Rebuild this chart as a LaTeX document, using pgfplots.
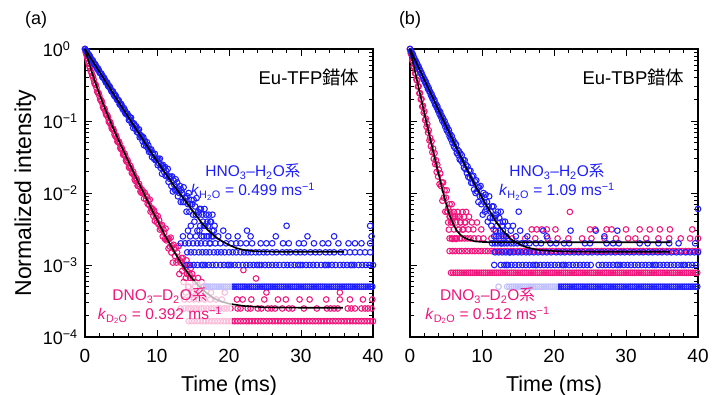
\documentclass[border=0pt]{standalone}
\usepackage{pgfplots}
\pgfplotsset{compat=1.18}
\usepackage{fontspec}
\setmainfont{Liberation Sans}
\newfontfamily\cjk{Noto Sans CJK JP}
\definecolor{cb}{RGB}{30,30,252}
\definecolor{cp}{RGB}{240,22,125}
\newcommand\tp[1]{10\textsuperscript{#1}}
\tikzset{dot/.style={mark=o, mark size=2.8pt, line width=1.05pt},
  fitl/.style={black, line width=1.6pt}}
\begin{document}
\begin{tikzpicture}
\path[use as bounding box] (0,0) rectangle (712pt,395pt);
%%%%%%%%%%%%%%%%%%%%%%%% panel (a)
\begin{axis}[at={(85pt,58pt)}, anchor=south west,
    scale only axis, width=288pt, height=288pt,
    xmin=0, xmax=40, ymode=log, ymin=1e-4, ymax=1,
    clip=false, clip marker paths=true,
    axis line style={line width=1.1pt},
    tick style={black, line width=0.9pt},
    major tick length=7pt, minor tick length=4pt,
    tick align=inside,
    xtick={0,10,20,30,40}, xticklabels={0,10,20,30,40},
    minor xtick={2,4,6,8,12,14,16,18,22,24,26,28,32,34,36,38},
    ytick={1e-4,1e-3,1e-2,1e-1,1},
    minor ytick={2e-4,3e-4,4e-4,5e-4,6e-4,7e-4,8e-4,9e-4,2e-3,3e-3,4e-3,5e-3,6e-3,7e-3,8e-3,9e-3,2e-2,3e-2,4e-2,5e-2,6e-2,7e-2,8e-2,9e-2,0.2,0.3,0.4,0.5,0.6,0.7,0.8,0.9},
    yticklabels={\tp{−4},\tp{−3},\tp{−2},\tp{−1},\tp{0}},
    xticklabel style={font=\fontsize{19}{19}\selectfont, yshift=-9pt},
    yticklabel style={font=\fontsize{18}{18}\selectfont, anchor=east, text width=34pt, align=left, inner sep=0pt, xshift=-8pt},
  ]
% DNO3-D2O decay
\addplot[only marks, dot, cp] coordinates {(0,1) (0.1,0.894) (0.2,0.832) (0.3,0.753) (0.4,0.689) (0.5,0.631) (0.6,0.578) (0.7,0.542) (0.8,0.493) (0.9,0.468) (1.0,0.426) (1.1,0.414) (1.2,0.378) (1.3,0.338) (1.4,0.322) (1.5,0.318) (1.6,0.288) (1.7,0.256) (1.8,0.245) (1.9,0.243) (2.0,0.223) (2.1,0.201) (2.2,0.193) (2.3,0.191) (2.4,0.176) (2.5,0.156) (2.6,0.150) (2.7,0.149) (2.8,0.138) (2.9,0.125) (3.0,0.121) (3.1,0.120) (3.2,0.112) (3.3,0.0989) (3.4,0.0946) (3.5,0.0966) (3.6,0.0887) (3.7,0.0797) (3.8,0.0772) (3.9,0.0780) (4.0,0.0732) (4.1,0.0652) (4.2,0.0618) (4.3,0.0633) (4.4,0.0583) (4.5,0.0518) (4.6,0.0509) (4.7,0.0520) (4.8,0.0485) (4.9,0.0423) (5.0,0.0407) (5.1,0.0422) (5.2,0.0393) (5.3,0.0342) (5.4,0.0337) (5.5,0.0352) (5.6,0.0325) (5.7,0.0284) (5.8,0.0273) (5.9,0.0286) (6.0,0.0264) (6.1,0.0228) (6.2,0.0222) (6.3,0.0238) (6.4,0.0221) (6.5,0.0190) (6.6,0.0186) (6.7,0.0197) (6.8,0.0177) (6.9,0.0154) (7.0,0.0147) (7.1,0.0161) (7.2,0.0152) (7.3,0.0126) (7.4,0.0126) (7.5,0.0134) (7.6,0.0122) (7.7,0.0105) (7.8,0.0101) (7.9,0.0111)
(8.0,0.0101) (8.1,0.0104) (8.2,0.0084) (8.3,0.0101) (8.4,0.0092) (8.5,0.0081) (8.6,0.0090) (8.7,0.0071) (8.8,0.0078) (8.9,0.0068) (9.0,0.0081) (9.1,0.0055) (9.2,0.0062) (9.3,0.0057) (9.4,0.0060) (9.5,0.0048) (9.6,0.0057) (9.7,0.0041) (9.8,0.0050) (9.9,0.0045) (10.0,0.0039) (10.1,0.0048) (10.2,0.0037) (10.3,0.0042) (10.4,0.0031) (10.5,0.0035) (10.6,0.0032) (10.7,0.0036) (10.8,0.0025) (10.9,0.0031) (11.0,0.0028) (11.1,0.0023) (11.2,0.0032) (11.3,0.0022) (11.4,0.0023) (11.5,0.0023) (11.6,0.0017) (11.7,0.0023) (11.8,0.0018) (11.9,0.0024) (12.0,0.00149) (12.1,0.00183) (12.2,0.00108) (12.3,0.00191) (12.4,0.00166) (12.5,0.00133) (12.6,0.00174) (12.7,0.00108) (12.8,0.00149) (12.9,0.00116) (13.0,0.00183) (13.1,0.00075) (13.2,0.00116) (13.3,0.00108) (13.4,0.00125) (13.5,0.00083) (13.6,0.00125) (13.7,0.00058) (13.8,0.00100) (13.9,0.00091) (14.0,0.00066) (14.1,0.00116) (14.2,0.00075) (14.3,0.00100) (14.4,0.00050) (14.5,0.00075) (14.6,0.00066) (14.7,0.00091) (14.8,0.00042) (14.9,0.00075) (15.0,0.00066) (15.3,0.00058) (15.7,0.00066) (16.2,0.00058) (16.9,0.00050) (22.0,0.00085) (23.75,0.00065)};
\addplot[only marks, dot, cp] coordinates {(14.4,1.66e-4) (14.8,1.66e-4) (15.2,1.66e-4) (15.6,1.66e-4) (16.0,1.66e-4) (16.4,1.66e-4) (16.8,1.66e-4) (17.2,1.66e-4) (17.6,1.66e-4) (18.0,1.66e-4) (18.4,1.66e-4) (18.8,1.66e-4) (19.2,1.66e-4) (19.6,1.66e-4) (20.0,1.66e-4) (20.4,1.66e-4) (20.8,1.66e-4) (21.2,1.66e-4) (21.6,1.66e-4) (22.0,1.66e-4) (22.4,1.66e-4) (22.8,1.66e-4) (23.2,1.66e-4) (23.6,1.66e-4) (24.0,1.66e-4) (24.4,1.66e-4) (24.8,1.66e-4) (25.2,1.66e-4) (25.6,1.66e-4) (26.0,1.66e-4) (26.4,1.66e-4) (26.8,1.66e-4) (27.2,1.66e-4) (27.6,1.66e-4) (28.0,1.66e-4) (28.4,1.66e-4) (28.8,1.66e-4) (29.2,1.66e-4) (29.6,1.66e-4) (30.0,1.66e-4) (30.4,1.66e-4) (30.8,1.66e-4) (31.2,1.66e-4) (31.6,1.66e-4) (32.0,1.66e-4) (32.4,1.66e-4) (32.8,1.66e-4) (33.2,1.66e-4) (33.6,1.66e-4) (34.0,1.66e-4) (34.4,1.66e-4) (34.8,1.66e-4) (35.2,1.66e-4) (35.6,1.66e-4) (36.0,1.66e-4) (36.4,1.66e-4) (36.8,1.66e-4) (37.2,1.66e-4) (37.6,1.66e-4) (38.0,1.66e-4) (38.4,1.66e-4) (38.8,1.66e-4) (39.2,1.66e-4) (39.6,1.66e-4) (40.0,1.66e-4)};
\addplot[only marks, dot, cp] coordinates {(13.3,2.49e-4) (13.8,2.49e-4) (14.3,2.49e-4) (14.7,2.49e-4) (15.2,2.49e-4) (15.6,2.49e-4) (16.1,2.49e-4) (16.5,2.49e-4) (17.0,2.49e-4) (17.5,2.49e-4) (17.9,2.49e-4) (18.4,2.49e-4) (18.8,2.49e-4) (19.3,2.49e-4) (19.7,2.49e-4) (20.2,2.49e-4) (21.2,2.49e-4) (21.6,2.49e-4) (22.6,2.49e-4) (23.0,2.49e-4) (24.0,2.49e-4) (24.5,2.49e-4) (25.4,2.49e-4) (25.9,2.49e-4) (26.4,2.49e-4) (27.4,2.49e-4) (28.3,2.49e-4) (28.8,2.49e-4) (30.4,2.49e-4) (32.2,2.49e-4) (33.6,2.49e-4) (34.1,2.49e-4) (34.6,2.49e-4) (35.1,2.49e-4) (36.5,2.49e-4) (37.0,2.49e-4) (37.5,2.49e-4) (38.4,2.49e-4) (38.9,2.49e-4) (39.3,2.49e-4) (39.8,2.49e-4)
(13.8,3.32e-4) (14.5,3.32e-4) (15.1,3.32e-4) (15.8,3.32e-4) (16.6,3.32e-4) (17.4,3.32e-4) (18.2,3.32e-4) (19.0,3.32e-4) (21.1,3.32e-4) (21.9,3.32e-4) (23.1,3.32e-4) (24.9,3.32e-4) (26.8,3.32e-4) (27.9,3.32e-4) (29.8,3.32e-4) (31.2,3.32e-4) (33.5,3.32e-4) (35.4,3.32e-4) (36.8,3.32e-4) (38.6,3.32e-4) (39.9,3.32e-4)
(14.0,4.15e-4) (15.0,4.15e-4) (16.1,4.15e-4) (17.5,4.15e-4) (19.4,4.15e-4) (25.2,4.15e-4) (35.4,4.15e-4) (14.3,4.98e-4) (15.3,4.98e-4) (16.4,4.98e-4)};
% HNO3-H2O decay
\addplot[only marks, dot, cb] coordinates {(0,1) (0.1,0.955) (0.2,0.940) (0.3,0.916) (0.4,0.849) (0.5,0.828) (0.6,0.822) (0.7,0.786) (0.8,0.743) (0.9,0.709) (1.0,0.705) (1.1,0.687) (1.2,0.637) (1.3,0.614) (1.4,0.617) (1.5,0.589) (1.6,0.557) (1.7,0.527) (1.8,0.539) (1.9,0.515) (2.0,0.478) (2.1,0.461) (2.2,0.458) (2.3,0.451) (2.4,0.410) (2.5,0.399) (2.6,0.405) (2.7,0.387) (2.8,0.362) (2.9,0.342) (3.0,0.347) (3.1,0.338) (3.2,0.307) (3.3,0.299) (3.4,0.304) (3.5,0.290) (3.6,0.269) (3.7,0.257) (3.8,0.260) (3.9,0.256) (4.0,0.231) (4.1,0.222) (4.2,0.230) (4.3,0.220) (4.4,0.202) (4.5,0.195) (4.6,0.197) (4.7,0.192) (4.8,0.171) (4.9,0.167) (5.0,0.173) (5.1,0.165) (5.2,0.150) (5.3,0.143) (5.4,0.151) (5.5,0.144) (5.6,0.128) (5.7,0.125) (5.8,0.128) (5.9,0.126)
(6.0,0.118) (6.1,0.103) (6.2,0.114) (6.3,0.103) (6.4,0.111) (6.5,0.0921) (6.6,0.0941) (6.7,0.0800) (6.8,0.0924) (6.9,0.0862) (7.0,0.0781) (7.1,0.0846) (7.2,0.0705) (7.3,0.0757) (7.4,0.0686) (7.5,0.0766) (7.6,0.0593) (7.7,0.0638) (7.8,0.0603) (7.9,0.0614) (8.0,0.0524) (8.1,0.0594) (8.2,0.0460) (8.3,0.0530) (8.4,0.0489) (8.5,0.0447) (8.6,0.0508) (8.7,0.0423) (8.8,0.0458) (8.9,0.0372) (9.0,0.0401) (9.1,0.0373) (9.2,0.0403) (9.3,0.0316) (9.4,0.0360) (9.5,0.0338) (9.6,0.0298) (9.7,0.0350) (9.8,0.0285) (9.9,0.0288) (10.0,0.0300) (10.1,0.0244) (10.2,0.0297) (10.3,0.0256) (10.4,0.0300) (10.5,0.0224) (10.6,0.0240) (10.7,0.0185) (10.8,0.0246) (10.9,0.0224) (11.0,0.0195) (11.1,0.0230) (11.2,0.0173) (11.3,0.0202) (11.4,0.0175) (11.5,0.0216) (11.6,0.0143) (11.7,0.0169) (11.8,0.0157) (11.9,0.0167) (12.0,0.0125) (12.1,0.0170) (12.2,0.0105) (12.3,0.0150) (12.4,0.0130) (12.5,0.0110) (12.6,0.0155) (12.7,0.0110) (12.8,0.0140) (12.9,0.0090) (13.0,0.0115) (13.1,0.0100) (13.2,0.0125) (13.3,0.0075) (13.4,0.0110) (13.5,0.0100) (13.6,0.0075) (13.7,0.0120) (13.8,0.0075) (13.9,0.0085) (14.0,0.0085) (14.1,0.0055) (14.2,0.0090) (14.3,0.0070) (14.4,0.0100) (14.5,0.0055) (14.6,0.0070) (14.7,0.0035) (14.8,0.0080) (14.9,0.0070) (15.0,0.0050) (15.1,0.0080) (15.2,0.0040) (15.3,0.0065) (15.4,0.0050) (15.5,0.0085) (15.6,0.0030) (15.7,0.0055) (15.8,0.0050) (15.9,0.0060) (16.0,0.0035) (16.1,0.0060) (16.2,0.0025) (16.3,0.0050) (16.4,0.0040) (16.5,0.0035) (16.6,0.0060) (16.7,0.0035) (16.8,0.0050) (16.9,0.0025) (17.0,0.0040) (17.1,0.0035) (17.2,0.0050) (17.3,0.0020) (17.4,0.0040) (17.5,0.0040) (17.6,0.0025) (17.7,0.0050) (17.8,0.0025) (17.9,0.0030) (18.0,0.0035) (28.0,0.0035) (39.6,0.0035)};
\addplot[only marks, dot, cb] coordinates {(16.5,5e-4) (16.8,5e-4) (17.1,5e-4) (17.4,5e-4) (17.7,5e-4) (18.0,5e-4) (18.3,5e-4) (18.6,5e-4) (18.9,5e-4) (19.2,5e-4) (19.5,5e-4) (19.8,5e-4) (20.1,5e-4) (20.4,5e-4) (20.7,5e-4) (21.0,5e-4) (21.3,5e-4) (21.6,5e-4) (21.9,5e-4) (22.2,5e-4) (22.5,5e-4) (22.8,5e-4) (23.1,5e-4) (23.4,5e-4) (23.7,5e-4) (24.0,5e-4) (24.3,5e-4) (24.6,5e-4) (24.9,5e-4) (25.2,5e-4) (25.5,5e-4) (25.8,5e-4) (26.1,5e-4) (26.4,5e-4) (26.7,5e-4) (27.0,5e-4) (27.3,5e-4) (27.6,5e-4) (27.9,5e-4) (28.2,5e-4) (28.5,5e-4) (28.8,5e-4) (29.1,5e-4) (29.4,5e-4) (29.7,5e-4) (30.0,5e-4) (30.3,5e-4) (30.6,5e-4) (30.9,5e-4) (31.2,5e-4) (31.5,5e-4) (31.8,5e-4) (32.1,5e-4) (32.4,5e-4) (32.7,5e-4) (33.0,5e-4) (33.3,5e-4) (33.6,5e-4) (33.9,5e-4) (34.2,5e-4) (34.5,5e-4) (34.8,5e-4) (35.1,5e-4) (35.4,5e-4) (35.7,5e-4) (36.0,5e-4) (36.3,5e-4) (36.6,5e-4) (36.9,5e-4) (37.2,5e-4) (37.5,5e-4) (37.8,5e-4) (38.1,5e-4) (38.4,5e-4) (38.7,5e-4) (39.0,5e-4) (39.3,5e-4) (39.6,5e-4) (39.9,5e-4)};
\addplot[only marks, dot, cb] coordinates {(14.1,1e-3) (14.6,1e-3) (15.1,1e-3) (15.6,1e-3) (16.2,1e-3) (16.4,1e-3) (16.7,1e-3) (17.2,1e-3) (17.7,1e-3) (18.2,1e-3) (18.8,1e-3) (19.3,1e-3) (19.8,1e-3) (20.0,1e-3) (20.3,1e-3) (20.8,1e-3) (21.3,1e-3) (21.9,1e-3) (22.4,1e-3) (22.9,1e-3) (23.4,1e-3) (23.9,1e-3) (24.2,1e-3) (24.5,1e-3) (25.0,1e-3) (25.5,1e-3) (26.0,1e-3) (26.5,1e-3) (27.0,1e-3) (27.6,1e-3) (28.1,1e-3) (28.6,1e-3) (29.1,1e-3) (29.6,1e-3) (29.9,1e-3) (30.2,1e-3) (30.7,1e-3) (31.2,1e-3) (31.7,1e-3) (32.2,1e-3) (32.8,1e-3) (33.3,1e-3) (33.5,1e-3) (33.8,1e-3) (34.3,1e-3) (34.8,1e-3) (35.4,1e-3) (35.9,1e-3) (36.4,1e-3) (36.9,1e-3) (37.1,1e-3) (37.4,1e-3) (38.0,1e-3) (38.5,1e-3) (39.0,1e-3) (39.5,1e-3) (40.0,1e-3)
(14.2,1.5e-3) (14.7,1.5e-3) (15.2,1.5e-3) (15.8,1.5e-3) (16.3,1.5e-3) (16.8,1.5e-3) (17.3,1.5e-3) (17.9,1.5e-3) (18.4,1.5e-3) (18.9,1.5e-3) (19.4,1.5e-3) (20.0,1.5e-3) (20.5,1.5e-3) (21.0,1.5e-3) (21.6,1.5e-3) (22.1,1.5e-3) (22.6,1.5e-3) (23.1,1.5e-3) (23.7,1.5e-3) (24.2,1.5e-3) (24.8,1.5e-3) (25.3,1.5e-3) (26.0,1.5e-3) (26.6,1.5e-3) (27.4,1.5e-3) (28.0,1.5e-3) (28.5,1.5e-3) (29.3,1.5e-3) (29.9,1.5e-3) (30.5,1.5e-3) (31.3,1.5e-3) (32.0,1.5e-3) (32.6,1.5e-3) (33.4,1.5e-3) (34.0,1.5e-3) (34.6,1.5e-3) (35.5,1.5e-3) (36.1,1.5e-3) (36.8,1.5e-3) (37.5,1.5e-3) (38.2,1.5e-3) (38.9,1.5e-3) (39.6,1.5e-3)
(13.3,2e-3) (13.9,2e-3) (14.4,2e-3) (15.0,2e-3) (15.6,2e-3) (16.1,2e-3) (16.7,2e-3) (17.4,2e-3) (18.1,2e-3) (18.8,2e-3) (19.6,2e-3) (20.3,2e-3) (21.0,2e-3) (21.6,2e-3) (22.4,2e-3) (23.2,2e-3) (24.4,2e-3) (25.2,2e-3) (26.0,2e-3) (27.5,2e-3) (28.3,2e-3) (29.7,2e-3) (30.4,2e-3) (31.8,2e-3) (33.0,2e-3) (33.8,2e-3) (35.2,2e-3) (36.6,2e-3) (37.5,2e-3) (38.4,2e-3) (39.6,2e-3)
(13.6,2.5e-3) (14.6,2.5e-3) (15.4,2.5e-3) (16.5,2.5e-3) (17.2,2.5e-3) (18.5,2.5e-3) (19.9,2.5e-3) (21.2,2.5e-3) (23.0,2.5e-3) (26.5,2.5e-3) (30.9,2.5e-3) (34.6,2.5e-3) (39.8,2.5e-3)
(14.3,3e-3) (15.9,3e-3) (17.7,3e-3) (19.2,3e-3) (22.5,3e-3)};
% fits
\addplot[fitl] coordinates {(0,1) (1,0.6965) (2,0.4845) (3,0.3372) (4,0.2348) (5,0.1637) (6,0.1142) (7,0.0798) (8,0.0560) (9,0.0393) (10,0.0278) (11,0.0198) (12,0.0142) (13,0.01034) (14,0.00764) (15,0.0056) (16,0.0041) (17,0.0031) (18,0.0025) (19,0.00215) (20,0.0019) (21,0.00172) (22,0.00162) (23,0.00157) (24,0.00155) (26,0.00153) (36,0.00153)};
\addplot[fitl] coordinates {(0,1) (0.1,0.9213) (0.2,0.8497) (0.3,0.7846) (0.4,0.7253) (0.5,0.6711) (0.6,0.6218) (0.7,0.5767) (0.8,0.5355) (0.9,0.4977) (1.0,0.4631) (1.2,0.4020) (1.4,0.3504) (1.6,0.3066) (1.8,0.2691) (2.0,0.2373) (2.2,0.2096) (2.4,0.1857) (2.6,0.1650) (2.8,0.1469) (3.0,0.1312) (3.2,0.1174) (3.4,0.1051) (3.6,0.0944) (3.8,0.0848) (4.0,0.0763) (4.4,0.0620) (4.8,0.0505) (5.2,0.0414) (5.6,0.0339) (6.0,0.0278) (6.5,0.0218) (7.0,0.0171) (7.5,0.0136) (8.0,0.0108) (8.5,0.0085) (9.0,0.0067) (9.5,0.0053) (10,0.0043) (10.5,0.0034) (11,0.0027) (11.5,0.0022) (12,0.0018) (12.5,0.00147) (13,0.00121) (13.5,0.00101) (14,0.00085) (14.5,0.00072) (15,0.00063) (16,0.00049) (17,0.00040) (18,0.00034) (19,0.00031) (20,0.00029) (22,0.00027) (25,0.000258) (30,0.000255) (35.8,0.000255)};
\fill[white, fill opacity=0.72] (axis cs:1.8,1.25e-4) rectangle (axis cs:20.4,6e-4);
\node[font=\fontsize{15.5}{19}\selectfont, align=center, text=cb] at (rel axis cs:0.583,0.538)
  {HNO\textsubscript{3}--H\textsubscript{2}O{\cjk 系}\\\textit{k}\textsubscript{H\textsubscript{2}O} = 0.499 ms\textsuperscript{−1}};
\node[font=\fontsize{15.5}{19}\selectfont, align=center, text=cp] at (rel axis cs:0.26,0.108)
  {DNO\textsubscript{3}--D\textsubscript{2}O{\cjk 系}\\\textit{k}\textsubscript{D\textsubscript{2}O} = 0.392 ms\textsuperscript{−1}};
\node[font=\fontsize{18.5}{18.5}\selectfont, anchor=east] at (rel axis cs:0.965,0.9) {Eu-TFP{\cjk 錯体}};
\node[font=\fontsize{18}{18}\selectfont] at (rel axis cs:-0.17,1.10) {(a)};
\node[font=\fontsize{23}{23}\selectfont, rotate=90, anchor=base] at (rel axis cs:-0.1875,0.5) {Normalized intensity};
\node[font=\fontsize{21.5}{21.5}\selectfont, anchor=base] at (rel axis cs:0.5,-0.19) {Time (ms)};
\end{axis}
%%%%%%%%%%%%%%%%%%%%%%%% panel (b)
\begin{axis}[at={(410pt,58pt)}, anchor=south west,
    scale only axis, width=288pt, height=288pt,
    xmin=0, xmax=40, ymode=log, ymin=1e-4, ymax=1,
    clip=false, clip marker paths=true,
    axis line style={line width=1.1pt},
    tick style={black, line width=0.9pt},
    major tick length=7pt, minor tick length=4pt,
    tick align=inside,
    xtick={0,10,20,30,40}, xticklabels={0,10,20,30,40},
    minor xtick={2,4,6,8,12,14,16,18,22,24,26,28,32,34,36,38},
    ytick={1e-4,1e-3,1e-2,1e-1,1},
    minor ytick={2e-4,3e-4,4e-4,5e-4,6e-4,7e-4,8e-4,9e-4,2e-3,3e-3,4e-3,5e-3,6e-3,7e-3,8e-3,9e-3,2e-2,3e-2,4e-2,5e-2,6e-2,7e-2,8e-2,9e-2,0.2,0.3,0.4,0.5,0.6,0.7,0.8,0.9},
    yticklabels={},
    xticklabel style={font=\fontsize{19}{19}\selectfont, yshift=-9pt},
  ]
% DNO3-D2O
\addplot[only marks, dot, cp] coordinates {(0,1) (0.1,0.875) (0.2,0.829) (0.3,0.703) (0.4,0.681) (0.5,0.572) (0.6,0.548) (0.7,0.460) (0.8,0.454) (0.9,0.374) (1.0,0.365) (1.1,0.301) (1.2,0.303) (1.3,0.242) (1.4,0.244) (1.5,0.199) (1.6,0.202) (1.7,0.158) (1.8,0.163) (1.9,0.130) (2.0,0.136) (2.1,0.103) (2.2,0.108) (2.3,0.0831) (2.4,0.0907) (2.5,0.0690) (2.6,0.0744) (2.7,0.0537) (2.8,0.0583) (2.9,0.0446) (3.0,0.0523) (3.1,0.0368) (3.2,0.0414) (3.3,0.0298) (3.4,0.0359) (3.5,0.0252) (3.6,0.0286) (3.7,0.0196) (3.8,0.0247) (3.9,0.0169) (4.0,0.0211) (4.1,0.0133) (4.2,0.0187) (4.3,0.0125) (4.4,0.0140) (4.5,0.0078) (4.6,0.0140) (4.7,0.0086) (4.8,0.0109) (4.9,0.0055) (5.0,0.0086) (5.1,0.0109) (5.2,0.0055) (5.3,0.0062) (5.4,0.0031) (5.5,0.0070) (5.6,0.0047) (5.7,0.0039) (5.8,0.0070) (5.9,0.0023) (6.0,0.0047) (6.2,0.0047) (6.4,0.0023) (6.6,0.0047) (6.8,0.0031) (7.0,0.0039) (7.3,0.0031) (7.6,0.0039)
(5.3,3.9e-3) (5.9,3.9e-3) (6.4,3.9e-3) (7.0,3.9e-3) (7.7,3.9e-3) (8.6,3.9e-3) (9.3,3.9e-3) (12.5,3.9e-3) (5.5,4.68e-3) (6.0,4.68e-3) (6.3,4.68e-3) (6.9,4.68e-3) (7.5,4.68e-3) (8.2,4.68e-3) (5.2,5.46e-3) (5.6,5.46e-3) (6.1,5.46e-3) (6.6,5.46e-3) (7.3,5.46e-3) (7.8,5.46e-3) (22.2,5.46e-3)
(6.1,3.12e-3) (6.7,3.12e-3) (7.4,3.12e-3) (8.1,3.12e-3) (8.8,3.12e-3) (9.9,3.12e-3) (11.6,3.12e-3) (16.9,3.12e-3) (17.6,3.12e-3) (18.3,3.12e-3) (19.0,3.12e-3) (20.2,3.12e-3) (25.0,3.12e-3) (25.7,3.12e-3) (27.3,3.12e-3) (28.0,3.12e-3) (30.0,3.12e-3) (31.9,3.12e-3) (33.3,3.12e-3) (34.7,3.12e-3) (36.1,3.12e-3) (39.2,3.12e-3)
(5.5,2.34e-3) (5.8,2.34e-3) (6.2,2.34e-3) (6.5,2.34e-3) (6.9,2.34e-3) (7.2,2.34e-3) (7.6,2.34e-3) (8.0,2.34e-3) (8.4,2.34e-3) (8.9,2.34e-3) (9.5,2.34e-3) (10.2,2.34e-3) (11.3,2.34e-3) (12.4,2.34e-3) (13.0,2.34e-3) (14.2,2.34e-3) (16.0,2.34e-3) (17.4,2.34e-3) (19.1,2.34e-3) (20.5,2.34e-3) (22.0,2.34e-3) (23.9,2.34e-3) (25.2,2.34e-3) (27.0,2.34e-3) (28.6,2.34e-3) (30.3,2.34e-3) (31.3,2.34e-3) (32.8,2.34e-3) (34.5,2.34e-3) (36.0,2.34e-3) (37.6,2.34e-3) (38.9,2.34e-3) (40.0,2.34e-3)};
\addplot[only marks, dot, cp] coordinates {(5.5,1.56e-3) (5.9,1.56e-3) (6.3,1.56e-3) (6.8,1.56e-3) (7.2,1.56e-3) (7.7,1.56e-3) (8.1,1.56e-3) (8.6,1.56e-3) (9.0,1.56e-3) (9.5,1.56e-3) (9.9,1.56e-3) (10.4,1.56e-3) (10.8,1.56e-3) (11.3,1.56e-3) (11.7,1.56e-3) (12.2,1.56e-3) (12.6,1.56e-3) (13.1,1.56e-3) (13.5,1.56e-3) (14.0,1.56e-3) (14.4,1.56e-3) (14.9,1.56e-3) (15.3,1.56e-3) (15.8,1.56e-3) (16.2,1.56e-3) (16.7,1.56e-3) (17.1,1.56e-3) (17.6,1.56e-3) (18.0,1.56e-3) (18.5,1.56e-3) (18.9,1.56e-3) (19.4,1.56e-3) (19.8,1.56e-3) (20.3,1.56e-3) (20.7,1.56e-3) (21.2,1.56e-3) (21.6,1.56e-3) (22.1,1.56e-3) (22.5,1.56e-3) (23.0,1.56e-3) (23.4,1.56e-3) (23.9,1.56e-3) (24.3,1.56e-3) (24.8,1.56e-3) (25.2,1.56e-3) (25.7,1.56e-3) (26.1,1.56e-3) (26.6,1.56e-3) (27.0,1.56e-3) (27.5,1.56e-3) (27.9,1.56e-3) (28.4,1.56e-3) (28.8,1.56e-3) (29.3,1.56e-3) (29.7,1.56e-3) (30.2,1.56e-3) (30.6,1.56e-3) (31.1,1.56e-3) (31.5,1.56e-3) (32.0,1.56e-3) (32.4,1.56e-3) (32.9,1.56e-3) (33.3,1.56e-3) (33.8,1.56e-3) (34.2,1.56e-3) (34.7,1.56e-3) (35.1,1.56e-3) (35.6,1.56e-3) (36.0,1.56e-3) (36.5,1.56e-3) (36.9,1.56e-3) (37.4,1.56e-3) (37.8,1.56e-3) (38.3,1.56e-3) (38.7,1.56e-3) (39.2,1.56e-3) (39.6,1.56e-3) (40.0,1.56e-3)
(5.7,7.8e-4) (6.0,7.8e-4) (6.3,7.8e-4) (6.6,7.8e-4) (6.9,7.8e-4) (7.2,7.8e-4) (7.5,7.8e-4) (7.8,7.8e-4) (8.1,7.8e-4) (8.4,7.8e-4) (8.7,7.8e-4) (9.0,7.8e-4) (9.3,7.8e-4) (9.6,7.8e-4) (9.9,7.8e-4) (10.2,7.8e-4) (10.5,7.8e-4) (10.8,7.8e-4) (11.1,7.8e-4) (11.4,7.8e-4) (11.7,7.8e-4) (12.0,7.8e-4) (12.3,7.8e-4) (12.6,7.8e-4) (12.9,7.8e-4) (13.2,7.8e-4) (13.5,7.8e-4) (13.8,7.8e-4) (14.1,7.8e-4) (14.4,7.8e-4) (14.7,7.8e-4) (15.0,7.8e-4) (15.3,7.8e-4) (15.6,7.8e-4) (15.9,7.8e-4) (16.2,7.8e-4) (16.5,7.8e-4) (16.8,7.8e-4) (17.1,7.8e-4) (17.4,7.8e-4) (17.7,7.8e-4) (18.0,7.8e-4) (18.3,7.8e-4) (18.6,7.8e-4) (18.9,7.8e-4) (19.2,7.8e-4) (19.5,7.8e-4) (19.8,7.8e-4) (20.1,7.8e-4) (20.4,7.8e-4) (20.7,7.8e-4) (21.0,7.8e-4) (21.3,7.8e-4) (21.6,7.8e-4) (21.9,7.8e-4) (22.2,7.8e-4) (22.5,7.8e-4) (22.8,7.8e-4) (23.1,7.8e-4) (23.4,7.8e-4) (23.7,7.8e-4) (24.0,7.8e-4) (24.3,7.8e-4) (24.6,7.8e-4) (24.9,7.8e-4) (25.2,7.8e-4) (25.5,7.8e-4) (25.8,7.8e-4) (26.1,7.8e-4) (26.4,7.8e-4) (26.7,7.8e-4) (27.0,7.8e-4) (27.3,7.8e-4) (27.6,7.8e-4) (27.9,7.8e-4) (28.2,7.8e-4) (28.5,7.8e-4) (28.8,7.8e-4) (29.1,7.8e-4) (29.4,7.8e-4) (29.7,7.8e-4) (30.0,7.8e-4) (30.3,7.8e-4) (30.6,7.8e-4) (30.9,7.8e-4) (31.2,7.8e-4) (31.5,7.8e-4) (31.8,7.8e-4) (32.1,7.8e-4) (32.4,7.8e-4) (32.7,7.8e-4) (33.0,7.8e-4) (33.3,7.8e-4) (33.6,7.8e-4) (33.9,7.8e-4) (34.2,7.8e-4) (34.5,7.8e-4) (34.8,7.8e-4) (35.1,7.8e-4) (35.4,7.8e-4) (35.7,7.8e-4) (36.0,7.8e-4) (36.3,7.8e-4) (36.6,7.8e-4) (36.9,7.8e-4) (37.2,7.8e-4) (37.5,7.8e-4) (37.8,7.8e-4) (38.1,7.8e-4) (38.4,7.8e-4) (38.7,7.8e-4) (39.0,7.8e-4) (39.3,7.8e-4) (39.6,7.8e-4) (39.9,7.8e-4)};
% HNO3-H2O
\addplot[only marks, dot, cb] coordinates {(0,1) (0.1,0.933) (0.2,0.924) (0.3,0.853) (0.4,0.845) (0.5,0.765) (0.6,0.750) (0.7,0.686) (0.8,0.686) (0.9,0.634) (1.0,0.622) (1.1,0.563) (1.2,0.569) (1.3,0.515) (1.4,0.510) (1.5,0.462) (1.6,0.466) (1.7,0.422) (1.8,0.418) (1.9,0.379) (2.0,0.383) (2.1,0.343) (2.2,0.350) (2.3,0.311) (2.4,0.314) (2.5,0.278) (2.6,0.287) (2.7,0.255) (2.8,0.255) (2.9,0.228) (3.0,0.236) (3.1,0.207) (3.2,0.211) (3.3,0.189) (3.4,0.195) (3.5,0.168) (3.6,0.172) (3.7,0.155) (3.8,0.160) (3.9,0.139) (4.0,0.142) (4.1,0.125) (4.2,0.133) (4.3,0.114) (4.4,0.118) (4.5,0.101) (4.6,0.108) (4.7,0.0937) (4.8,0.0994) (4.9,0.0831) (5.0,0.0883) (5.1,0.0744) (5.2,0.0808) (5.3,0.0689) (5.4,0.0745) (5.5,0.0611) (5.6,0.0650) (5.7,0.0559) (5.8,0.0617) (5.9,0.0496) (6.0,0.0544) (6.1,0.0444) (6.2,0.0502) (6.3,0.0415) (6.4,0.0472) (6.5,0.0360) (6.6,0.0400) (6.7,0.0337) (6.8,0.0380) (6.9,0.0293) (7.0,0.0351) (7.1,0.0282) (7.2,0.0334) (7.3,0.0262) (7.4,0.0288) (7.5,0.0225) (7.6,0.0285) (7.7,0.0215) (7.8,0.0244) (7.9,0.0189) (8.0,0.0233) (8.1,0.0167) (8.2,0.0207) (8.3,0.0162) (8.4,0.0203) (8.5,0.0138) (8.6,0.0170) (8.7,0.0138) (8.8,0.0173) (8.9,0.0112) (9.0,0.0145) (9.1,0.0100) (9.2,0.0150) (9.3,0.0105) (9.4,0.0120) (9.5,0.0075) (9.6,0.0120) (9.7,0.0090) (9.8,0.0125) (9.9,0.0070) (10.0,0.0090) (10.1,0.0050) (10.2,0.0100) (10.3,0.0075) (10.4,0.0055) (10.5,0.0095) (10.6,0.0060) (10.7,0.0075) (10.8,0.0040) (10.9,0.0065) (11.0,0.0090) (11.1,0.0045) (11.2,0.0055) (11.3,0.0035) (11.4,0.0065) (11.5,0.0045) (11.6,0.0065) (11.7,0.0025) (11.8,0.0045) (11.9,0.0030) (12.0,0.0050) (12.1,0.0035) (12.2,0.0055) (12.3,0.0025) (12.4,0.0045) (12.5,0.0030) (12.6,0.0055) (12.7,0.0020) (12.8,0.0035) (12.9,0.0040) (13.0,0.0025) (13.2,0.0040) (13.4,0.0025) (13.6,0.0035) (13.8,0.0015) (14.0,0.0030) (14.3,0.0035) (15.1,0.0055) (40.0,0.0060)
(12.0,2.5e-3) (13.3,2.5e-3) (14.7,2.5e-3) (16.3,2.5e-3) (19.0,2.5e-3) (27.0,2.5e-3) (12.9,3e-3) (15.3,3e-3) (18.5,3e-3) (22.3,3e-3) (25.8,3e-3) (28.8,3e-3)
(11.4,2e-3) (11.8,2e-3) (12.2,2e-3) (12.7,2e-3) (13.1,2e-3) (13.5,2e-3) (14.0,2e-3) (14.4,2e-3) (14.9,2e-3) (15.5,2e-3) (16.0,2e-3) (16.6,2e-3) (17.5,2e-3) (18.2,2e-3) (19.5,2e-3) (20.3,2e-3) (21.4,2e-3) (22.1,2e-3) (24.3,2e-3) (25.0,2e-3) (27.3,2e-3) (28.2,2e-3) (29.0,2e-3) (31.9,2e-3) (33.0,2e-3) (34.5,2e-3) (36.0,2e-3) (37.3,2e-3) (39.6,2e-3)};
\addplot[only marks, dot, cb] coordinates {(11.8,1.5e-3) (12.3,1.5e-3) (12.8,1.5e-3) (13.3,1.5e-3) (13.9,1.5e-3) (14.4,1.5e-3) (15.0,1.5e-3) (15.5,1.5e-3) (16.1,1.5e-3) (16.6,1.5e-3) (17.2,1.5e-3) (17.8,1.5e-3) (18.4,1.5e-3) (19.0,1.5e-3) (19.6,1.5e-3) (20.3,1.5e-3) (20.9,1.5e-3) (21.5,1.5e-3) (22.2,1.5e-3) (22.8,1.5e-3) (23.4,1.5e-3) (24.0,1.5e-3) (24.7,1.5e-3) (25.3,1.5e-3) (26.0,1.5e-3) (26.6,1.5e-3) (27.2,1.5e-3) (27.9,1.5e-3) (28.5,1.5e-3) (29.2,1.5e-3) (29.8,1.5e-3) (30.5,1.5e-3) (31.1,1.5e-3) (31.8,1.5e-3) (32.4,1.5e-3) (33.1,1.5e-3) (33.7,1.5e-3) (34.4,1.5e-3) (35.0,1.5e-3) (35.7,1.5e-3) (36.3,1.5e-3) (37.0,1.5e-3) (37.6,1.5e-3) (38.3,1.5e-3) (38.9,1.5e-3) (39.5,1.5e-3) (40.0,1.5e-3)
(11.7,1e-3) (12.6,1e-3) (13.1,1e-3) (13.4,1e-3) (13.6,1e-3) (14.1,1e-3) (14.6,1e-3) (15.1,1e-3) (15.6,1e-3) (16.1,1e-3) (16.6,1e-3) (17.1,1e-3) (17.4,1e-3) (17.6,1e-3) (18.1,1e-3) (18.6,1e-3) (19.1,1e-3) (19.6,1e-3) (20.1,1e-3) (20.6,1e-3) (21.1,1e-3) (21.3,1e-3) (21.6,1e-3) (22.1,1e-3) (22.6,1e-3) (23.1,1e-3) (23.6,1e-3) (24.1,1e-3) (24.6,1e-3) (25.1,1e-3) (26.2,1e-3) (26.7,1e-3) (27.2,1e-3) (27.7,1e-3) (28.2,1e-3) (28.7,1e-3) (28.9,1e-3) (29.2,1e-3) (29.7,1e-3) (30.2,1e-3) (30.7,1e-3) (31.2,1e-3) (31.7,1e-3) (32.2,1e-3) (32.7,1e-3) (33.2,1e-3) (33.7,1e-3) (34.0,1e-3) (34.2,1e-3) (34.7,1e-3) (35.2,1e-3) (35.7,1e-3) (36.2,1e-3) (36.7,1e-3) (37.2,1e-3) (37.7,1e-3) (38.0,1e-3) (38.2,1e-3) (38.7,1e-3) (39.2,1e-3) (39.7,1e-3)
(12.3,5e-4) (13.5,5e-4) (13.8,5e-4) (14.1,5e-4) (14.4,5e-4) (14.7,5e-4) (15.0,5e-4) (15.3,5e-4) (15.6,5e-4) (15.9,5e-4) (16.2,5e-4) (16.5,5e-4) (16.8,5e-4) (17.1,5e-4) (17.4,5e-4) (17.7,5e-4) (18.0,5e-4) (18.3,5e-4) (18.6,5e-4) (18.9,5e-4) (19.2,5e-4) (19.5,5e-4) (19.8,5e-4) (20.1,5e-4) (20.4,5e-4) (20.7,5e-4) (21.0,5e-4) (21.3,5e-4) (21.6,5e-4) (21.9,5e-4) (22.2,5e-4) (22.5,5e-4) (22.8,5e-4) (23.1,5e-4) (23.4,5e-4) (23.7,5e-4) (24.0,5e-4) (24.3,5e-4) (24.6,5e-4) (24.9,5e-4) (25.2,5e-4) (25.5,5e-4) (25.8,5e-4) (26.1,5e-4) (26.4,5e-4) (26.7,5e-4) (27.0,5e-4) (27.3,5e-4) (27.6,5e-4) (27.9,5e-4) (28.2,5e-4) (28.5,5e-4) (28.8,5e-4) (29.1,5e-4) (29.4,5e-4) (29.7,5e-4) (30.0,5e-4) (30.3,5e-4) (30.6,5e-4) (30.9,5e-4) (31.2,5e-4) (31.5,5e-4) (31.8,5e-4) (32.1,5e-4) (32.4,5e-4) (32.7,5e-4) (33.0,5e-4) (33.3,5e-4) (33.6,5e-4) (33.9,5e-4) (34.2,5e-4) (34.5,5e-4) (34.8,5e-4) (35.1,5e-4) (35.4,5e-4) (35.7,5e-4) (36.0,5e-4) (36.3,5e-4) (36.6,5e-4) (36.9,5e-4) (37.2,5e-4) (37.5,5e-4) (37.8,5e-4) (38.1,5e-4) (38.4,5e-4) (38.7,5e-4) (39.0,5e-4) (39.3,5e-4) (39.6,5e-4) (39.9,5e-4)};
% fits
\addplot[fitl] coordinates {(0,1) (1,0.611) (2,0.373) (3,0.228) (4,0.1395) (5,0.0856) (6,0.0528) (7,0.0328) (8,0.0206) (9,0.0131) (10,0.00861) (11,0.0058) (12,0.0039) (13,0.0029) (14,0.0023) (15,0.00198) (16,0.00179) (17,0.00168) (18,0.00161) (20,0.00156) (22,0.00154) (25,0.00153) (36.1,0.00153)};
\addplot[fitl] coordinates {(0,1) (0.5,0.5978) (1,0.3569) (1.5,0.2134) (2,0.128) (2.5,0.0771) (3,0.0468) (3.5,0.0287) (4,0.0179) (4.5,0.0112) (5,0.0072) (5.5,0.0049) (6,0.0037) (6.5,0.0030) (7,0.00263) (7.5,0.00241) (8,0.00228) (9,0.00213) (10,0.00209) (12,0.00207) (36.2,0.00207)};
\fill[white, fill opacity=0.72] (axis cs:2.0,1.25e-4) rectangle (axis cs:20.5,6e-4);
\node[font=\fontsize{15.5}{19}\selectfont, align=center, text=cb] at (rel axis cs:0.51,0.538)
  {HNO\textsubscript{3}--H\textsubscript{2}O{\cjk 系}\\\textit{k}\textsubscript{H\textsubscript{2}O} = 1.09 ms\textsuperscript{−1}};
\node[font=\fontsize{15.5}{19}\selectfont, align=center, text=cp] at (rel axis cs:0.269,0.108)
  {DNO\textsubscript{3}--D\textsubscript{2}O{\cjk 系}\\\textit{k}\textsubscript{D\textsubscript{2}O} = 0.512 ms\textsuperscript{−1}};
\node[font=\fontsize{18.5}{18.5}\selectfont, anchor=east] at (rel axis cs:0.965,0.9) {Eu-TBP{\cjk 錯体}};
\node[font=\fontsize{18}{18}\selectfont] at (rel axis cs:0,1.10) {(b)};
\node[font=\fontsize{21.5}{21.5}\selectfont, anchor=base] at (rel axis cs:0.5,-0.19) {Time (ms)};
\end{axis}
\end{tikzpicture}
\end{document}
